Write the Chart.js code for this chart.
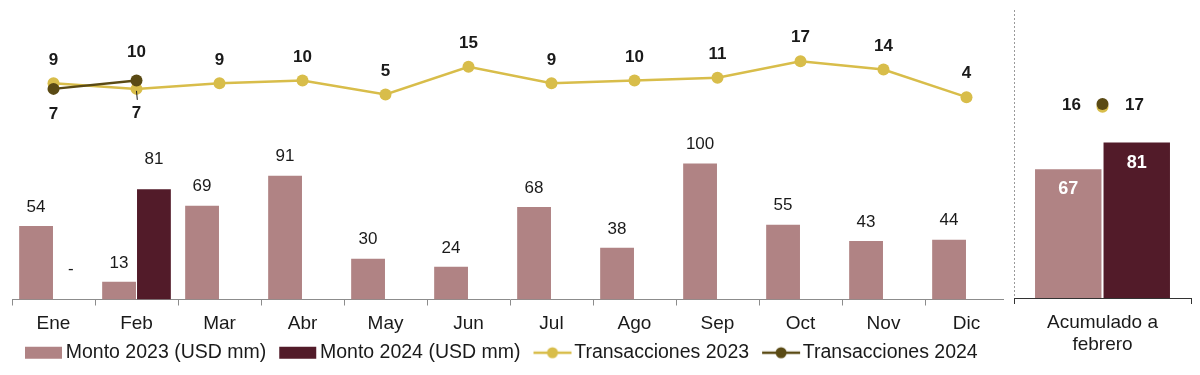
<!DOCTYPE html>
<html>
<head>
<meta charset="utf-8">
<script src="https://cdn.jsdelivr.net/npm/chart.js@4"></script>
<style>
  body { margin: 0; background: #fff; }
  #wrap { position: relative; width: 1200px; height: 375px; }
  #main { position: absolute; left: 0; top: 0; }
  #side { position: absolute; left: 1004px; top: 0; background: #fff; }
</style>
</head>
<body>
<div id="wrap">
  <canvas id="main" width="1014" height="375"></canvas>
  <canvas id="side" width="196" height="375"></canvas>
</div>
<script>
// meses
const meses = ['Ene', 'Feb', 'Mar', 'Abr', 'May', 'Jun', 'Jul', 'Ago', 'Sep', 'Oct', 'Nov', 'Dic']
const monto2023 = [54, 13, 69, 91, 30, 24, 68, 38, 100, 55, 43, 44]
const monto2024 = [0, 81, null, null, null, null, null, null, null, null, null, null]
const trans2023 = [9, 7, 9, 10, 5, 15, 9, 10, 11, 17, 14, 4]
const trans2024 = [7, 10, null, null, null, null, null, null, null, null, null, null]

// acumulado a febrero
const acumLabel = [['Acumulado a', 'febrero']]
const acumMonto2023 = [67]
const acumMonto2024 = [81]
const acumTrans2023 = [16]
const acumTrans2024 = [17]

const C_M23 = '#b08384'
const C_M24 = '#521b29'
const C_T23 = '#d8bd4a'
const C_T24 = '#5a4a14'
const FONT = '"Liberation Sans", Arial, sans-serif'

Chart.defaults.font.family = FONT
Chart.defaults.color = '#1a1a1a'

// muestra de leyenda, corrida un poco a la derecha dentro del canvas
function swatch(kind, color) {
  const c = document.createElement('canvas')
  c.width = 52; c.height = 14
  const g = c.getContext('2d')
  g.fillStyle = color
  g.strokeStyle = color
  if (kind === 'bar') {
    g.fillRect(12, 1, 37, 12)
  } else {
    g.lineWidth = 2.5
    g.beginPath(); g.moveTo(12, 7); g.lineTo(50, 7); g.stroke()
    g.beginPath(); g.arc(31, 7, 5.5, 0, Math.PI * 2); g.fill()
  }
  return c
}

// etiquetas de valores (no hay plugin datalabels)
const valueLabels = {
  id: 'valueLabels',
  afterDatasetsDraw(chart) {
    const ctx = chart.ctx
    ctx.save()
    ctx.textAlign = 'center'
    ctx.textBaseline = 'middle'
    chart.data.datasets.forEach((ds, i) => {
      const meta = chart.getDatasetMeta(i)
      const lb = ds.lbl || {}
      meta.data.forEach((el, j) => {
        const v = ds.data[j]
        if (v === null || v === undefined) return
        ctx.font = lb.font
        ctx.fillStyle = lb.color || '#1a1a1a'
        let x = el.x + (lb.dx || 0)
        let y
        if (lb.mode === 'inside') {
          y = el.y + lb.gap
        } else if (lb.mode === 'side') {
          y = el.y + (lb.dy || 0)
        } else if (lb.below && lb.below.includes(j)) {
          y = el.y + lb.belowGap
          if (lb.leader && lb.leader.includes(j)) {
            ctx.strokeStyle = '#1a1a1a'
            ctx.lineWidth = 1
            ctx.beginPath()
            ctx.moveTo(el.x, el.y + 2)
            ctx.lineTo(el.x + 0.8, el.y + 11)
            ctx.stroke()
          }
        } else {
          y = el.y - lb.gap
        }
        ctx.fillText(v === 0 ? '-' : String(v), x, y)
      })
    })
    ctx.restore()
  }
}

// linea punteada separadora del panel acumulado
const divider = {
  id: 'divider',
  beforeDatasetsDraw(chart) {
    const {ctx, chartArea} = chart
    const x = Math.round(chartArea.left) + 0.5
    ctx.save()
    ctx.strokeStyle = '#9a9a9a'
    ctx.lineWidth = 1
    ctx.setLineDash([2, 2])
    ctx.beginPath()
    ctx.moveTo(x, chartArea.top)
    ctx.lineTo(x, chartArea.bottom)
    ctx.stroke()
    ctx.restore()
  }
}

const mainChart = new Chart(document.getElementById('main'), {
  type: 'bar',
  data: {
    labels: meses,
    datasets: [
      {
        label: 'Monto 2023 (USD mm)', data: monto2023, backgroundColor: C_M23,
        yAxisID: 'y', order: 2, categoryPercentage: 0.84, barPercentage: 0.97,
        lbl: { font: '17px ' + FONT, gap: 19 }
      },
      {
        label: 'Monto 2024 (USD mm)', data: monto2024, backgroundColor: C_M24,
        yAxisID: 'y', order: 2, categoryPercentage: 0.84, barPercentage: 0.97,
        lbl: { font: '17px ' + FONT, gap: 30 }
      },
      {
        type: 'line', label: 'Transacciones 2023', data: trans2023,
        borderColor: C_T23, backgroundColor: C_T23, pointBackgroundColor: C_T23,
        borderWidth: 2.5, pointRadius: 6, pointBorderWidth: 0, yAxisID: 'y1', order: 1,
        lbl: { font: 'bold 17px ' + FONT, gap: 23.5, below: [1], belowGap: 24, leader: [1] }
      },
      {
        type: 'line', label: 'Transacciones 2024', data: trans2024,
        borderColor: C_T24, backgroundColor: C_T24, pointBackgroundColor: C_T24,
        borderWidth: 2.5, pointRadius: 6, pointBorderWidth: 0, yAxisID: 'y1', order: 0,
        lbl: { font: 'bold 17px ' + FONT, gap: 28, below: [0], belowGap: 25 }
      }
    ]
  },
  options: {
    responsive: false,
    animation: false,
    layout: { padding: { left: 12, right: 1, top: 10, bottom: 2.5 } },
    scales: {
      x: {
        grid: { display: true, drawOnChartArea: false, drawTicks: true, tickLength: 6, color: '#8c8c8c' },
        border: { display: true, color: '#8c8c8c', width: 1 },
        ticks: { font: { size: 19 }, color: '#1a1a1a', padding: 7, autoSkip: false, maxRotation: 0 },
        afterFit(scale) { scale.height = 33.5 }
      },
      y: { display: false, min: 0, max: 212.9 },
      y1: { display: false, min: -69.1, max: 35.5 }
    },
    plugins: {
      tooltip: { enabled: false },
      legend: {
        position: 'bottom',
        align: 'start',
        labels: {
          usePointStyle: true,
          pointStyleWidth: 34,
          padding: 10,
          font: { size: 19.5 },
          color: '#1a1a1a',
          generateLabels(chart) {
            const kinds = ['bar', 'bar', 'line', 'line']
            return chart.data.datasets.map((ds, k) => ({
              text: ds.label,
              datasetIndex: k,
              fillStyle: ds.backgroundColor,
              strokeStyle: ds.backgroundColor,
              fontColor: '#1a1a1a',
              lineWidth: 0,
              hidden: false,
              pointStyle: swatch(kinds[k], ds.backgroundColor),
              rotation: 0
            }))
          }
        }
      }
    }
  },
  plugins: [valueLabels]
})

const sideChart = new Chart(document.getElementById('side'), {
  type: 'bar',
  data: {
    labels: acumLabel,
    datasets: [
      {
        label: 'Monto 2023 (USD mm)', data: acumMonto2023, backgroundColor: C_M23,
        yAxisID: 'y', order: 2, categoryPercentage: 0.774, barPercentage: 0.97,
        lbl: { mode: 'inside', font: 'bold 18px ' + FONT, color: '#fff', gap: 20 }
      },
      {
        label: 'Monto 2024 (USD mm)', data: acumMonto2024, backgroundColor: C_M24,
        yAxisID: 'y', order: 2, categoryPercentage: 0.774, barPercentage: 0.97,
        lbl: { mode: 'inside', font: 'bold 18px ' + FONT, color: '#fff', gap: 21 }
      },
      {
        type: 'line', label: 'Transacciones 2023', data: acumTrans2023,
        borderColor: C_T23, backgroundColor: C_T23, pointBackgroundColor: C_T23,
        pointRadius: 6, pointBorderWidth: 0, yAxisID: 'y1', order: 1,
        lbl: { mode: 'side', font: 'bold 17px ' + FONT, dx: -31, dy: -1 }
      },
      {
        type: 'line', label: 'Transacciones 2024', data: acumTrans2024,
        borderColor: C_T24, backgroundColor: C_T24, pointBackgroundColor: C_T24,
        pointRadius: 6, pointBorderWidth: 0, yAxisID: 'y1', order: 0,
        lbl: { mode: 'side', font: 'bold 17px ' + FONT, dx: 32, dy: 1.7 }
      }
    ]
  },
  options: {
    responsive: false,
    animation: false,
    layout: { padding: { left: 10, right: 9, top: 10, bottom: 0 } },
    scales: {
      x: {
        grid: { display: true, drawOnChartArea: false, drawTicks: true, tickLength: 6, color: '#333' },
        border: { display: true, color: '#333', width: 1 },
        ticks: { font: { size: 19 }, color: '#1a1a1a', padding: 7, autoSkip: false, maxRotation: 0 },
        afterFit(scale) { scale.height = 77 }
      },
      y: { display: false, min: 0, max: 150 },
      y1: { display: false, min: -54.85, max: 51.8 }
    },
    plugins: {
      tooltip: { enabled: false },
      legend: { display: false }
    }
  },
  plugins: [divider, valueLabels]
})
</script>
</body>
</html>
